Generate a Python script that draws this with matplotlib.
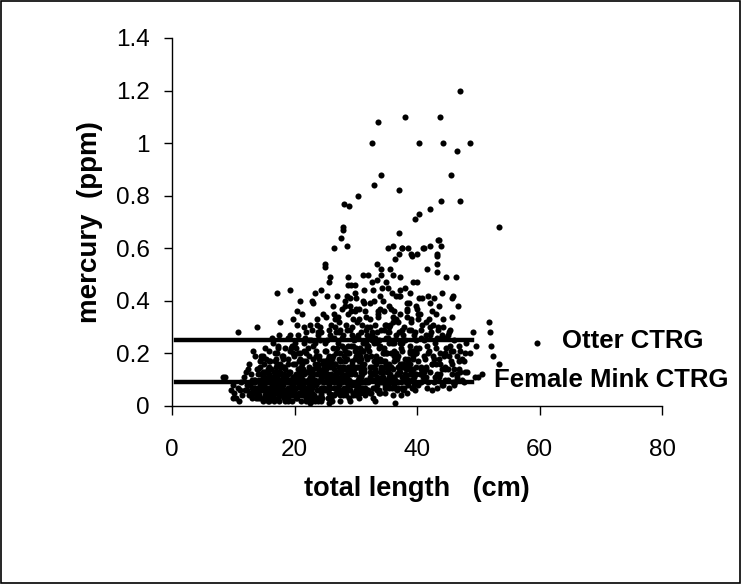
import numpy as np
import matplotlib
matplotlib.use('Agg')
import matplotlib.pyplot as plt
from matplotlib.patches import Rectangle

plt.rcParams['font.family'] = ['Liberation Sans', 'DejaVu Sans']

#----------------------- data ----------------------------------------------
# short fish (8-14 cm)
len_a = [8.7, 9.6, 10.1, 10.4, 10.8, 11.2, 11.5, 11.9, 12.2, 12.4,
         12.7, 12.9, 13.1, 13.3, 13.6, 13.8, 10.9, 11.7, 12.6, 13.4,
         9.9, 11.1, 12.0, 13.0]
hg_a = [0.11, 0.06, 0.05, 0.03, 0.07, 0.09, 0.04, 0.06, 0.08, 0.14,
        0.05, 0.12, 0.03, 0.07, 0.10, 0.05, 0.02, 0.11, 0.04, 0.09,
        0.08, 0.06, 0.13, 0.07]

# 13-18 cm
len_b = [13.2, 13.5, 13.8, 14.0, 14.1, 14.3, 14.4, 14.6, 14.7, 14.9,
         15.0, 15.1, 15.3, 15.4, 15.5, 15.7, 15.8, 15.9, 16.0, 16.1,
         16.2, 16.3, 16.5, 16.6, 16.7, 16.8, 16.9, 17.0, 17.1, 17.2,
         17.3, 17.4, 17.5, 17.6, 17.7, 17.8, 17.9, 18.0, 13.6, 13.9,
         14.2, 14.5, 14.8, 15.2, 15.6, 16.4, 17.2, 17.5, 14.0, 14.6,
         15.0, 15.4, 15.9, 16.3, 16.7, 17.0, 17.4, 17.8, 13.4, 14.4,
         15.3, 16.0, 16.6, 17.3, 17.9, 14.9, 15.8, 16.5, 17.1, 17.6]
hg_b = [0.05, 0.09, 0.04, 0.12, 0.07, 0.03, 0.15, 0.06, 0.10, 0.02,
        0.08, 0.13, 0.05, 0.18, 0.03, 0.11, 0.07, 0.21, 0.04, 0.09,
        0.14, 0.06, 0.24, 0.02, 0.11, 0.17, 0.05, 0.08, 0.20, 0.13,
        0.03, 0.10, 0.27, 0.06, 0.15, 0.04, 0.19, 0.09, 0.07, 0.14,
        0.10, 0.19, 0.06, 0.22, 0.09, 0.04, 0.16, 0.07, 0.03, 0.12,
        0.16, 0.07, 0.12, 0.26, 0.03, 0.15, 0.05, 0.12, 0.10, 0.08,
        0.04, 0.17, 0.08, 0.23, 0.05, 0.13, 0.02, 0.11, 0.06, 0.32]

# 18-25 cm
len_c = [18.1, 18.2, 18.4, 18.5, 18.6, 18.8, 18.9, 19.0, 19.1, 19.3,
         19.4, 19.5, 19.6, 19.8, 19.9, 20.0, 20.1, 20.2, 20.4, 20.5,
         20.6, 20.7, 20.9, 21.0, 21.1, 21.2, 21.4, 21.5, 21.6, 21.7,
         21.9, 22.0, 22.1, 22.2, 22.4, 22.5, 22.6, 22.8, 22.9, 23.0,
         23.1, 23.2, 23.4, 23.5, 23.6, 23.8, 23.9, 24.0, 24.1, 24.3,
         24.4, 24.5, 24.6, 24.8, 24.9, 18.3, 18.7, 19.2, 19.7, 20.3,
         20.8, 21.3, 21.8, 22.3, 22.7, 23.3, 23.7, 24.2, 24.7, 18.5,
         19.0, 19.5, 20.0, 20.5, 21.0, 21.5, 22.0, 22.5, 23.0, 23.5,
         24.0, 24.5, 18.9, 19.8, 20.6, 21.4, 22.2, 23.1, 23.9, 24.6,
         18.2, 19.3, 20.2, 21.1, 21.9, 22.8, 23.6, 24.4, 19.6, 21.6,
         23.4, 20.4, 22.6, 24.8, 18.6, 20.9, 22.9, 24.2, 19.1, 21.2]
hg_c = [0.08, 0.15, 0.04, 0.22, 0.11, 0.06, 0.18, 0.03, 0.13, 0.27,
        0.07, 0.10, 0.02, 0.16, 0.09, 0.24, 0.05, 0.12, 0.31, 0.04,
        0.14, 0.08, 0.20, 0.02, 0.11, 0.35, 0.06, 0.17, 0.09, 0.26,
        0.03, 0.13, 0.07, 0.22, 0.15, 0.01, 0.10, 0.29, 0.05, 0.18,
        0.12, 0.04, 0.24, 0.08, 0.33, 0.02, 0.14, 0.19, 0.06, 0.11,
        0.28, 0.03, 0.16, 0.09, 0.21, 0.12, 0.05, 0.09, 0.20, 0.07,
        0.17, 0.04, 0.13, 0.08, 0.25, 0.10, 0.06, 0.30, 0.14, 0.02,
        0.12, 0.05, 0.16, 0.10, 0.07, 0.21, 0.04, 0.13, 0.08, 0.19,
        0.03, 0.11, 0.26, 0.06, 0.10, 0.14, 0.05, 0.23, 0.09, 0.17,
        0.19, 0.09, 0.03, 0.15, 0.28, 0.07, 0.12, 0.05, 0.23, 0.04,
        0.16, 0.36, 0.11, 0.07, 0.10, 0.18, 0.02, 0.13, 0.06, 0.08]

# 25-32 cm
len_d = [25.0, 25.1, 25.3, 25.4, 25.5, 25.7, 25.8, 25.9, 26.0, 26.2,
         26.3, 26.4, 26.6, 26.7, 26.8, 27.0, 27.1, 27.2, 27.4, 27.5,
         27.6, 27.8, 27.9, 28.0, 28.2, 28.3, 28.4, 28.6, 28.7, 28.8,
         29.0, 29.1, 29.2, 29.4, 29.5, 29.6, 29.8, 29.9, 30.0, 30.2,
         30.3, 30.4, 30.6, 30.7, 30.8, 31.0, 31.1, 31.2, 31.4, 31.5,
         31.6, 31.8, 31.9, 25.2, 25.6, 26.1, 26.5, 26.9, 27.3, 27.7,
         28.1, 28.5, 28.9, 29.3, 29.7, 30.1, 30.5, 30.9, 31.3, 31.7,
         25.4, 25.9, 26.4, 26.8, 27.3, 27.8, 28.2, 28.7, 29.1, 29.6,
         30.1, 30.5, 31.0, 31.4, 31.8, 25.8, 26.7, 27.5, 28.4, 29.3,
         30.2, 31.1, 26.2, 27.1, 28.0, 28.8, 29.7, 30.6, 31.5, 25.5,
         27.9, 29.9, 31.2, 26.6, 28.6, 30.4, 27.4, 29.4, 31.6, 25.1]
hg_d = [0.06, 0.14, 0.25, 0.03, 0.10, 0.19, 0.07, 0.31, 0.12, 0.04,
        0.22, 0.09, 0.16, 0.28, 0.05, 0.13, 0.34, 0.08, 0.20, 0.02,
        0.11, 0.26, 0.15, 0.07, 0.38, 0.10, 0.04, 0.18, 0.23, 0.13,
        0.06, 0.29, 0.09, 0.17, 0.33, 0.05, 0.12, 0.21, 0.41, 0.08,
        0.15, 0.26, 0.03, 0.19, 0.11, 0.31, 0.07, 0.24, 0.14, 0.36,
        0.09, 0.18, 0.27, 0.21, 0.08, 0.16, 0.35, 0.11, 0.05, 0.23,
        0.14, 0.29, 0.03, 0.12, 0.25, 0.06, 0.20, 0.13, 0.44, 0.10,
        0.12, 0.04, 0.07, 0.20, 0.28, 0.09, 0.17, 0.06, 0.38, 0.15,
        0.22, 0.10, 0.16, 0.05, 0.30, 0.27, 0.13, 0.17, 0.09, 0.23,
        0.32, 0.12, 0.02, 0.24, 0.19, 0.09, 0.14, 0.37, 0.07, 0.16,
        0.04, 0.18, 0.21, 0.30, 0.11, 0.08, 0.06, 0.27, 0.19, 0.34]

# 32-40 cm
len_e = [32.0, 32.2, 32.3, 32.4, 32.6, 32.7, 32.9, 33.0, 33.1, 33.3,
         33.4, 33.5, 33.7, 33.8, 33.9, 34.1, 34.2, 34.3, 34.5, 34.6,
         34.8, 34.9, 35.0, 35.2, 35.3, 35.4, 35.6, 35.7, 35.9, 36.0,
         36.1, 36.3, 36.4, 36.5, 36.7, 36.8, 37.0, 37.1, 37.2, 37.4,
         37.5, 37.7, 37.8, 37.9, 38.1, 38.2, 38.4, 38.5, 38.6, 38.8,
         38.9, 39.1, 39.2, 39.3, 39.5, 39.6, 39.8, 39.9, 32.5, 33.2,
         33.6, 34.0, 34.4, 34.7, 35.1, 35.5, 35.8, 36.2, 36.6, 36.9,
         37.3, 37.6, 38.0, 38.3, 38.7, 39.0, 39.4, 39.7, 32.1, 32.8,
         33.5, 34.2, 34.9, 35.5, 36.2, 36.9, 37.6, 38.2, 38.9, 39.6,
         32.6, 33.8, 35.0, 36.3, 37.5, 38.6, 39.8, 33.2, 34.6, 36.0]
hg_e = [0.09, 0.21, 0.33, 0.05, 0.15, 0.27, 0.12, 0.40, 0.07, 0.19,
        0.24, 0.11, 0.36, 0.06, 0.17, 0.29, 0.09, 0.45, 0.13, 0.22,
        0.05, 0.31, 0.16, 0.08, 0.26, 0.38, 0.12, 0.20, 0.07, 0.34,
        0.14, 0.24, 0.10, 0.42, 0.18, 0.06, 0.28, 0.13, 0.35, 0.09,
        0.21, 0.16, 0.30, 0.07, 0.25, 0.11, 0.39, 0.18, 0.08, 0.23,
        0.14, 0.32, 0.10, 0.19, 0.27, 0.06, 0.15, 0.22, 0.19, 0.14,
        0.10, 0.23, 0.17, 0.08, 0.20, 0.30, 0.11, 0.17, 0.27, 0.09,
        0.13, 0.24, 0.18, 0.05, 0.29, 0.12, 0.21, 0.09, 0.26, 0.03,
        0.06, 0.14, 0.20, 0.11, 0.08, 0.15, 0.11, 0.14, 0.20, 0.12,
        0.12, 0.25, 0.09, 0.21, 0.15, 0.17, 0.25, 0.31, 0.36, 0.04]

# 40-48 cm
len_f = [40.1, 40.3, 40.6, 40.8, 41.0, 41.3, 41.5, 41.7, 42.0, 42.2,
         42.4, 42.7, 42.9, 43.1, 43.4, 43.6, 43.8, 44.1, 44.3, 44.5,
         44.8, 45.0, 45.2, 45.5, 45.7, 46.0, 46.2, 46.5, 46.8, 47.1,
         47.4, 47.7, 48.0, 40.5, 41.1, 41.8, 42.5, 43.2, 43.9, 44.6,
         45.3, 46.1, 46.9, 47.6, 40.2, 41.4, 42.8, 44.0, 45.4, 46.6]
hg_f = [0.08, 0.22, 0.14, 0.31, 0.11, 0.18, 0.27, 0.07, 0.21, 0.13,
        0.36, 0.09, 0.24, 0.16, 0.29, 0.11, 0.20, 0.08, 0.33, 0.15,
        0.22, 0.10, 0.28, 0.17, 0.12, 0.25, 0.09, 0.19, 0.14, 0.21,
        0.10, 0.17, 0.24, 0.35, 0.13, 0.20, 0.16, 0.12, 0.26, 0.10,
        0.19, 0.14, 0.23, 0.09, 0.17, 0.11, 0.18, 0.14, 0.29, 0.11]

# extra fish in the crowded 14-40 cm band
len_g = [14.2, 14.8, 15.3, 15.9, 16.4, 16.9, 17.4, 17.9, 18.4, 18.9,
         19.4, 19.9, 20.4, 20.9, 21.4, 21.9, 22.4, 22.9, 23.4, 23.9,
         24.4, 24.9, 25.4, 25.9, 26.4, 26.9, 27.4, 27.9, 28.4, 28.9,
         29.4, 29.9, 30.4, 30.9, 31.4, 31.9, 32.4, 32.9, 33.4, 33.9,
         34.4, 34.9, 35.4, 35.9, 36.4, 36.9, 37.4, 37.9, 14.5, 15.1,
         15.6, 16.2, 16.7, 17.2, 17.7, 18.3, 18.8, 19.3, 19.8, 20.3,
         20.8, 21.3, 21.8, 22.3, 22.8, 23.3, 23.8, 24.3, 24.8, 25.3,
         25.8, 26.3, 26.8, 27.3, 27.8, 28.3, 28.8, 29.3, 29.8, 30.3,
         30.8, 31.3, 31.8, 32.3, 32.8, 33.3, 33.8, 34.3, 34.8, 35.3,
         35.8, 36.3, 36.8, 37.3, 37.8, 38.3, 38.8, 39.3, 13.7, 14.4,
         15.0, 15.7, 16.3, 17.0, 17.6, 18.2, 18.9, 19.5, 20.1, 20.7,
         21.4, 22.0, 22.6, 23.2, 23.9, 24.5, 25.1, 25.7, 26.4, 27.0,
         27.6, 28.2, 28.9, 29.5, 30.1, 30.7, 31.3, 32.0, 32.6, 33.2,
         33.8, 34.5, 35.1, 35.7, 36.3, 37.0, 37.6, 38.2, 38.8, 39.5,
         16.1, 17.8, 19.6, 21.2, 22.9, 24.6, 26.3, 27.9, 29.6, 31.2,
         32.9, 34.6, 36.2, 37.9, 39.4, 20.6, 23.6, 26.6, 29.2, 31.6]
hg_g = [0.04, 0.11, 0.07, 0.15, 0.03, 0.12, 0.08, 0.05, 0.14, 0.10,
        0.06, 0.19, 0.03, 0.13, 0.08, 0.17, 0.05, 0.11, 0.02, 0.15,
        0.07, 0.12, 0.18, 0.04, 0.09, 0.22, 0.13, 0.06, 0.11, 0.20,
        0.16, 0.08, 0.27, 0.14, 0.05, 0.23, 0.11, 0.17, 0.08, 0.13,
        0.20, 0.10, 0.16, 0.24, 0.07, 0.12, 0.22, 0.15, 0.08, 0.03,
        0.14, 0.09, 0.06, 0.11, 0.16, 0.03, 0.09, 0.13, 0.04, 0.10,
        0.14, 0.07, 0.20, 0.03, 0.12, 0.08, 0.16, 0.04, 0.13, 0.09,
        0.15, 0.11, 0.07, 0.18, 0.12, 0.21, 0.08, 0.14, 0.26, 0.10,
        0.18, 0.09, 0.22, 0.13, 0.07, 0.18, 0.22, 0.11, 0.17, 0.14,
        0.09, 0.19, 0.12, 0.16, 0.10, 0.14, 0.12, 0.18, 0.03, 0.06,
        0.11, 0.05, 0.08, 0.13, 0.04, 0.11, 0.07, 0.04, 0.09, 0.05,
        0.10, 0.06, 0.14, 0.09, 0.03, 0.07, 0.11, 0.05, 0.14, 0.09,
        0.17, 0.05, 0.10, 0.15, 0.04, 0.09, 0.16, 0.06, 0.10, 0.13,
        0.05, 0.11, 0.13, 0.15, 0.10, 0.13, 0.07, 0.09, 0.16, 0.08,
        0.10, 0.12, 0.08, 0.17, 0.10, 0.09, 0.19, 0.15, 0.13, 0.21,
        0.24, 0.20, 0.25, 0.11, 0.14, 0.27, 0.31, 0.33, 0.36, 0.29]

# more fish below the otter line
len_k = [12.8, 13.5, 14.1, 14.7, 15.2, 15.8, 16.5, 17.1, 17.7, 18.4,
         19.0, 19.7, 20.3, 21.0, 21.6, 22.3, 22.9, 23.6, 24.2, 24.9,
         25.5, 26.2, 26.8, 27.5, 28.1, 28.8, 29.4, 30.1, 30.7, 31.4,
         32.0, 32.7, 33.3, 34.0, 34.6, 35.3, 35.9, 36.6, 37.2, 37.9,
         38.5, 39.2, 39.8, 40.5, 41.1, 41.8, 42.4, 43.1, 43.7, 44.4,
         13.1, 13.9, 14.6, 15.4, 16.1, 16.8, 17.6, 18.3, 19.1, 19.8,
         20.6, 21.3, 22.1, 22.8, 23.5, 24.3, 25.0, 25.8, 26.5, 27.3,
         28.0, 28.7, 29.5, 30.2, 31.0, 31.7, 32.5, 33.2, 34.0, 34.7,
         35.4, 36.2, 36.9, 37.7, 38.4, 39.2, 39.9, 40.6, 41.4, 42.1,
         42.9, 43.6, 44.3, 45.1, 45.8, 46.6, 47.3, 48.1, 14.3, 16.6,
         18.6, 20.6, 22.6, 24.6, 26.6, 28.6, 30.6, 32.6, 34.6, 36.6,
         38.6, 40.6, 42.6, 44.6, 15.5, 17.5, 19.5, 21.5, 23.5, 25.5,
         27.5, 29.5, 31.5, 33.5, 35.5, 37.5, 39.5, 41.5, 43.5, 45.5,
         13.8, 15.9, 18.0, 20.1, 22.2, 24.3, 26.4, 28.5, 30.6, 32.7,
         34.8, 36.9, 39.0, 41.1, 43.2, 45.3, 16.9, 19.2, 21.5, 23.8,
         26.1, 28.4, 30.7, 33.0, 35.3, 37.6, 39.9, 42.2, 44.5, 46.8,
         14.9, 17.3, 19.8, 22.4, 24.9, 27.4, 29.9, 32.4, 34.9, 37.4,
         39.9, 42.4, 12.2, 13.6, 15.6, 18.1, 20.5, 23.0, 25.6, 28.0,
         30.5, 33.1, 35.6, 38.1, 40.7, 21.8, 24.0, 26.0, 29.0, 31.9,
         34.1, 36.4, 38.9, 41.6, 44.0, 46.0, 27.0, 33.7, 36.0, 19.0]
hg_k = [0.08, 0.05, 0.14, 0.09, 0.04, 0.17, 0.11, 0.06, 0.13, 0.03,
        0.16, 0.08, 0.22, 0.05, 0.12, 0.19, 0.03, 0.15, 0.10, 0.24,
        0.07, 0.18, 0.12, 0.04, 0.22, 0.15, 0.08, 0.19, 0.05, 0.13,
        0.23, 0.10, 0.16, 0.05, 0.21, 0.13, 0.09, 0.18, 0.24, 0.11,
        0.16, 0.07, 0.21, 0.12, 0.25, 0.09, 0.16, 0.22, 0.12, 0.19,
        0.10, 0.06, 0.18, 0.13, 0.07, 0.20, 0.04, 0.15, 0.07, 0.11,
        0.04, 0.16, 0.09, 0.13, 0.21, 0.06, 0.17, 0.11, 0.04, 0.15,
        0.10, 0.20, 0.04, 0.15, 0.09, 0.24, 0.05, 0.13, 0.18, 0.07,
        0.24, 0.11, 0.19, 0.06, 0.16, 0.13, 0.20, 0.09, 0.15, 0.27,
        0.11, 0.18, 0.08, 0.14, 0.21, 0.10, 0.18, 0.13, 0.17, 0.13,
        0.06, 0.11, 0.06, 0.12, 0.16, 0.20, 0.11, 0.25, 0.29, 0.20,
        0.10, 0.29, 0.19, 0.26, 0.10, 0.02, 0.22, 0.24, 0.03, 0.17,
        0.29, 0.23, 0.04, 0.28, 0.07, 0.29, 0.11, 0.14, 0.30, 0.21,
        0.04, 0.14, 0.07, 0.04, 0.10, 0.02, 0.26, 0.12, 0.17, 0.28,
        0.15, 0.07, 0.33, 0.19, 0.26, 0.07, 0.18, 0.21, 0.06, 0.27,
        0.04, 0.31, 0.22, 0.10, 0.28, 0.16, 0.12, 0.30, 0.14, 0.17,
        0.12, 0.22, 0.11, 0.25, 0.15, 0.10, 0.36, 0.15, 0.26, 0.04,
        0.20, 0.06, 0.06, 0.19, 0.02, 0.18, 0.20, 0.14, 0.01, 0.05,
        0.07, 0.02, 0.31, 0.12, 0.15, 0.02, 0.18, 0.03, 0.02, 0.06,
        0.15, 0.01, 0.21, 0.23, 0.27, 0.08, 0.10, 0.34, 0.32, 0.02]

# 0.25-0.45 ppm fill
len_h = [22.6, 23.8, 24.7, 25.6, 26.3, 27.2, 27.9, 28.7, 29.4, 30.1,
         30.9, 31.7, 32.4, 33.1, 33.9, 34.7, 35.4, 36.2, 36.9, 37.7,
         38.4, 39.1, 39.9, 40.7, 41.5, 42.3, 43.1, 44.2, 26.9, 28.3,
         29.8, 31.4, 32.8, 34.4, 35.8, 37.3, 38.7, 40.3, 41.9, 43.6,
         24.1, 27.7, 30.6, 33.6, 36.6, 39.6, 42.6, 45.1, 21.6, 19.7]
hg_h = [0.31, 0.28, 0.35, 0.29, 0.38, 0.32, 0.27, 0.35, 0.30, 0.37,
        0.28, 0.34, 0.30, 0.26, 0.37, 0.31, 0.28, 0.36, 0.32, 0.27,
        0.34, 0.29, 0.38, 0.26, 0.32, 0.28, 0.35, 0.30, 0.42, 0.40,
        0.43, 0.39, 0.44, 0.40, 0.37, 0.42, 0.39, 0.41, 0.33, 0.38,
        0.25, 0.37, 0.33, 0.35, 0.33, 0.28, 0.31, 0.27, 0.30, 0.33]

# 0.38-0.55 ppm
len_mid = [25.0, 25.0, 33.4, 34.2, 34.2, 35.6, 36.1, 37.2, 31.2, 32.0,
           32.6, 33.4, 35.0, 35.3, 39.4, 40.0, 41.6, 43.2, 43.2, 44.7,
           46.4, 25.8, 25.7, 28.8, 28.8, 29.3, 29.9, 28.5, 29.1, 23.3,
           24.4, 25.3, 20.9, 23.1, 22.8, 31.2, 32.3, 34.0, 35.9, 37.0,
           37.2, 38.0, 38.9, 40.8, 41.8, 42.1, 42.7, 44.0, 45.7, 45.9,
           46.7, 17.2, 19.2]
hg_mid = [0.54, 0.53, 0.54, 0.52, 0.50, 0.52, 0.50, 0.49, 0.50, 0.50,
          0.47, 0.48, 0.47, 0.45, 0.47, 0.47, 0.52, 0.54, 0.51, 0.49,
          0.49, 0.49, 0.47, 0.49, 0.46, 0.46, 0.46, 0.42, 0.41, 0.43,
          0.44, 0.42, 0.40, 0.39, 0.40, 0.40, 0.39, 0.42, 0.43, 0.42,
          0.44, 0.45, 0.43, 0.41, 0.42, 0.39, 0.41, 0.43, 0.41, 0.42,
          0.38, 0.43, 0.44]

# high values
len_high = [47.0, 38.0, 43.7, 33.6, 32.6, 40.4, 44.3, 48.7, 46.6, 34.1,
            33.0, 37.1, 45.6, 30.4, 28.1, 28.9, 43.9, 47.0, 42.1, 40.4,
            39.6, 53.4, 27.9, 27.9, 27.6, 28.5, 26.4, 37.0, 36.1, 35.3,
            37.6, 38.6, 37.0, 39.0, 39.2, 41.1, 42.1, 43.5, 43.9, 43.2,
            36.4, 40.0, 41.0, 43.2, 43.6, 37.5]
hg_high = [1.20, 1.10, 1.10, 1.08, 1.00, 1.00, 1.00, 1.00, 0.97, 0.88,
           0.84, 0.82, 0.88, 0.80, 0.77, 0.76, 0.78, 0.78, 0.75, 0.73,
           0.71, 0.68, 0.68, 0.67, 0.64, 0.61, 0.60, 0.66, 0.61, 0.60,
           0.60, 0.60, 0.58, 0.58, 0.57, 0.60, 0.61, 0.63, 0.61, 0.58,
           0.56, 0.58, 0.60, 0.57, 0.63, 0.60]

# scattered edge points
len_edge = [51.8, 51.9, 52.1, 52.4, 53.4, 50.6, 50.0, 49.2, 49.7, 47.8,
            48.7, 47.0, 47.8, 45.9, 43.2, 45.7, 46.5, 45.4, 44.6, 43.8,
            49.5, 8.4, 10.8, 13.9, 10.0, 13.3, 14.9, 12.5, 45.7, 40.0,
            40.2, 40.2, 38.3, 38.3]
hg_edge = [0.32, 0.28, 0.23, 0.19, 0.16, 0.12, 0.11, 0.28, 0.23, 0.20,
           0.20, 0.13, 0.13, 0.09, 0.07, 0.16, 0.12, 0.23, 0.20, 0.16,
           0.11, 0.11, 0.28, 0.30, 0.03, 0.21, 0.19, 0.16, 0.34, 0.37,
           0.35, 0.33, 0.37, 0.36]

# criteria lines (ppm) and their length span (cm)
otter_ctrg = 0.25
mink_ctrg = 0.09
ctrg_span = [0.7, 49]

#-----------------------------------------------------------------------------
lengths = np.concatenate([len_a, len_b, len_c, len_d, len_e, len_f,
                          len_g, len_k, len_h, len_mid, len_high, len_edge])
mercury = np.concatenate([hg_a, hg_b, hg_c, hg_d, hg_e, hg_f,
                          hg_g, hg_k, hg_h, hg_mid, hg_high, hg_edge])

fig = plt.figure(figsize=(7.41, 5.84), dpi=100, facecolor='w')
ax = fig.add_axes([172/741, 1-406/584, 490/741, 368/584])

ax.plot(lengths, mercury, 'o', color='k', ms=4.4, mec='none', zorder=3)
ax.plot(ctrg_span, [otter_ctrg, otter_ctrg], '-', color='k', lw=3.2, zorder=4)
ax.plot(ctrg_span, [mink_ctrg, mink_ctrg], '-', color='k', lw=3.2, zorder=4)

ax.set_xlim(0, 80)
ax.set_ylim(0, 1.4)
ax.set_xticks([0, 20, 40, 60, 80])
ax.set_yticks([0, 0.2, 0.4, 0.6, 0.8, 1, 1.2, 1.4])
ax.set_yticklabels(['0', '0.2', '0.4', '0.6', '0.8', '1', '1.2', '1.4'])
for s in ['top', 'right']:
    ax.spines[s].set_visible(False)
for s in ['left', 'bottom']:
    ax.spines[s].set_linewidth(1.0)
ax.tick_params(axis='y', direction='out', length=6, width=1, pad=10, labelsize=17.5)
ax.tick_params(axis='x', direction='out', length=6.5, width=1, pad=17, labelsize=17.5)
ax.patch.set_alpha(0)

ax.set_ylabel('mercury  (ppm)', fontsize=20, fontweight='bold', labelpad=9)
ax.set_xlabel('total length   (cm)', fontsize=19.5, fontweight='bold', labelpad=11)

# labels for the two criteria lines
ax.plot([59.6], [0.241], 'o', color='k', ms=4.4, mec='none', clip_on=False)
ax.text(63.6, 0.2195, 'Otter CTRG', fontsize=18.5, fontweight='bold',
        va='baseline', ha='left', clip_on=False)
ax.text(52.6, 0.0735, 'Female Mink CTRG', fontsize=18.5, fontweight='bold',
        va='baseline', ha='left', clip_on=False)

# chart border
fig.patches.append(Rectangle((0.001, 0.001), 0.998, 0.997, transform=fig.transFigure,
                             fill=False, edgecolor='k', lw=1.2))

plt.savefig('out.png', dpi=100)
